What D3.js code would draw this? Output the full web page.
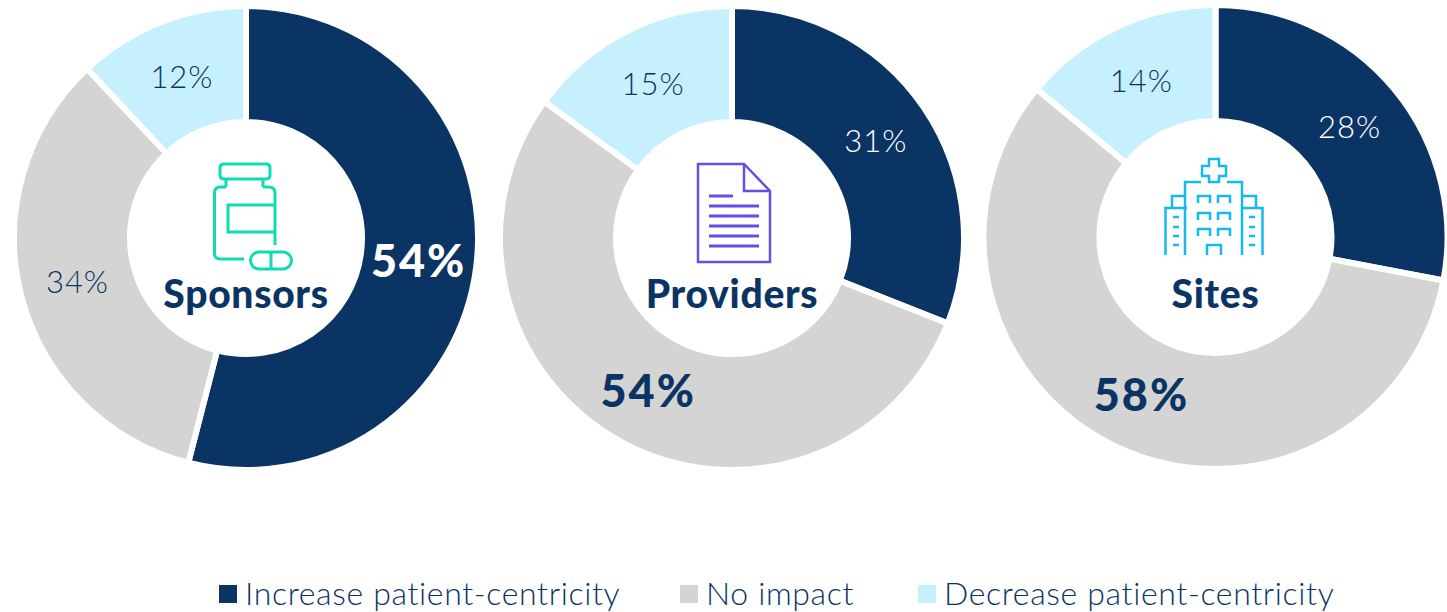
<!DOCTYPE html>
<html>
<head>
<meta charset="utf-8">
<script src="https://cdnjs.cloudflare.com/ajax/libs/d3/7.8.5/d3.min.js"></script>
<style>
  html, body { margin: 0; padding: 0; background: #fff; }
  svg { display: block; }
  text { font-family: Lato, "Open Sans", sans-serif; fill: #0a3464; }
</style>
</head>
<body>
<div id="visualization"></div>
<script>
//Data
const categories = ["Increase patient-centricity", "No impact", "Decrease patient-centricity"];
const groups = ["Sponsors", "Providers", "Sites"];
const sponsorsValues = [54, 34, 12];
const providersValues = [31, 54, 15];
const sitesValues = [28, 58, 14];

//Layout
const width = 1447, height = 612;
const outerR = 232, innerR = 116;
const centers = [[246, 238], [732, 238], [1215.5, 237]];
const titleY = 293;
const legendSwatchX = [219, 680, 918];
const colors = d3.scaleOrdinal().domain(categories).range(["#0a3464", "#d4d4d2", "#c7f0ff"]);

const svg = d3.select("#visualization").append("svg")
    .attr("width", width)
    .attr("height", height);

const pie = d3.pie().sort(null);
const arc = d3.arc().innerRadius(innerR).outerRadius(outerR);

[sponsorsValues, providersValues, sitesValues].forEach((values, i) => {
    const g = svg.append("g")
        .attr("transform", `translate(${centers[i][0]},${centers[i][1]})`);
    const maxValue = d3.max(values);

    g.selectAll("path")
        .data(pie(values))
        .enter()
        .append("path")
        .attr("d", arc)
        .attr("fill", (d, j) => colors(categories[j]))
        .attr("stroke", "#fff")
        .attr("stroke-width", 6);

    //the biggest slice gets the big bold label, navy slices get white text
    g.selectAll("text.pct")
        .data(pie(values))
        .enter()
        .append("text")
        .attr("class", "pct")
        .attr("transform", d => `translate(${arc.centroid(d)})`)
        .attr("text-anchor", "middle")
        .attr("dominant-baseline", "central")
        .attr("font-size", d => d.value === maxValue ? 45 : 31)
        .attr("font-weight", d => d.value === maxValue ? 900 : 300)
        .attr("letter-spacing", d => d.value === maxValue ? 2 : 1)
        .style("fill", d => d.index === 0 ? "#fff" : "#0a3464")
        .text(d => d.value + "%");

    g.append("text")
        .attr("x", 0)
        .attr("y", titleY - centers[i][1])
        .attr("text-anchor", "middle")
        .attr("dominant-baseline", "central")
        .attr("font-size", 39)
        .attr("font-weight", 900)
        .attr("letter-spacing", 0.7)
        .text(groups[i]);
});

//Icons
function icon(color, width, paths) {
    const g = svg.append("g")
        .attr("fill", "none")
        .attr("stroke", color)
        .attr("stroke-width", width);
    paths.forEach(d => g.append("path").attr("d", d));
    return g;
}

//bottle and pill
icon("#0fdcb4", 3, [
    "M224 164H266Q270 164 270 168V175Q270 179 266 179H224Q220 179 220 175V168Q220 164 224 164Z",
    "M226 179V187M263 179V187",
    "M226 187H220Q214.5 187 214.5 193V253Q214.5 259 220 259H244",
    "M263 187H269Q275 187 275 193V245",
    "M275 205H228V232H275",
    "M259 252H283A8.5 8.5 0 0 1 283 269H259A8.5 8.5 0 0 1 259 252Z",
    "M271 252V269"
]);

//document
icon("#5f50e6", 2.5, [
    "M698 164H744L770 191V262H698Z",
    "M744 164V191H770"
]);
icon("#5f50e6", 3, [
    "M709 196H733",
    "M709 206H759",
    "M709 216H759",
    "M709 226H759",
    "M709 236H759",
    "M709 246H759"
]);

//hospital
icon("#14b9f0", 2.5, [
    "M1209 159H1219V166H1226V176H1219V182H1209V176H1202V166H1209Z",
    "M1201 182H1185V255M1227 182H1242V255",
    "M1185 196H1172V208M1242 196H1256V208",
    "M1187 208H1165.5V255M1241 208H1262.5V255",
    "M1198 203V196H1210V203M1218 203V196H1230V203",
    "M1198 220V213H1210V220M1218 220V213H1230V220",
    "M1198 236V229H1210V236M1218 236V229H1230V236",
    "M1207 255V245H1221V255",
    "M1173 217H1179M1173 227H1179M1173 236H1179M1173 245H1179",
    "M1249 217H1255M1249 227H1255M1249 236H1255M1249 245H1255"
]);

//Legend
const legend = svg.selectAll("g.legend")
    .data(categories)
    .enter()
    .append("g")
    .attr("class", "legend")
    .attr("transform", (d, i) => `translate(${legendSwatchX[i]},585)`);

legend.append("rect")
    .attr("width", 18)
    .attr("height", 18)
    .attr("fill", d => colors(d));

legend.append("text")
    .attr("x", 26)
    .attr("y", 7)
    .attr("dominant-baseline", "central")
    .attr("font-size", 32)
    .attr("font-weight", 300)
    .attr("letter-spacing", 0.65)
    .text(d => d);
</script>
</body>
</html>
